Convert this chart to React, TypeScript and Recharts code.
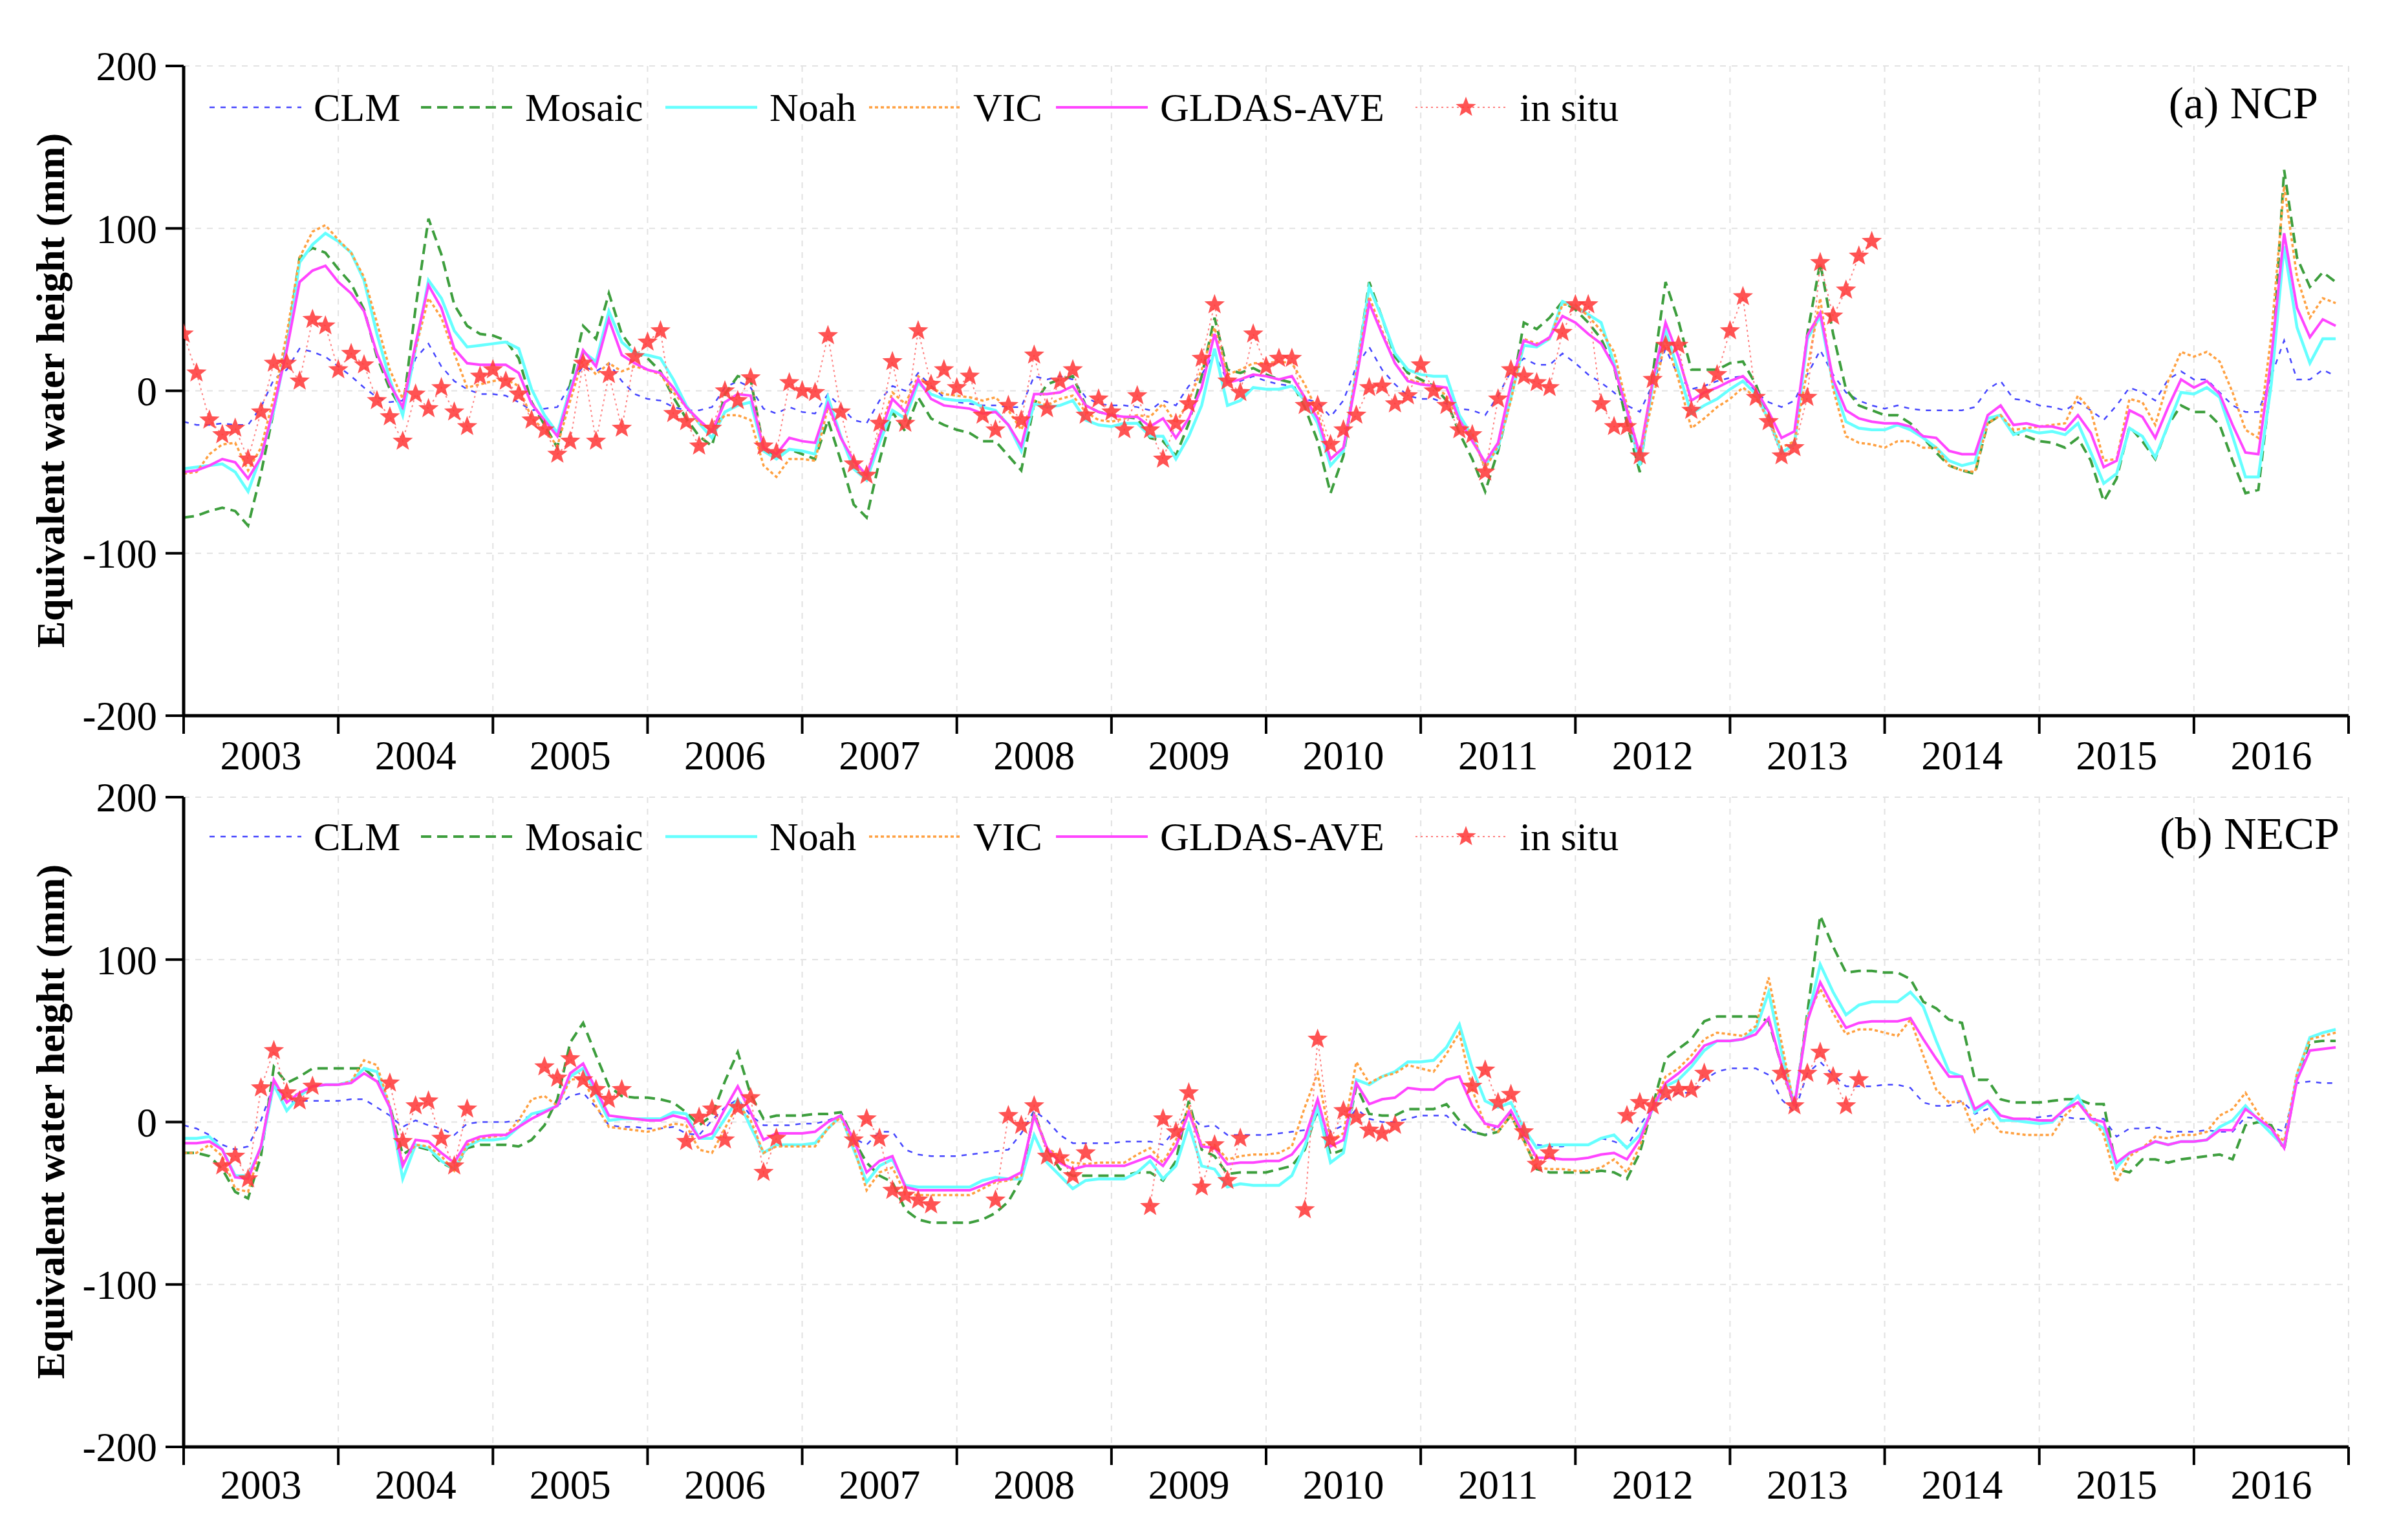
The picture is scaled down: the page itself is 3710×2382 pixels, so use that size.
import { CartesianGrid, Line, LineChart, XAxis, YAxis } from "recharts";

const YEARS = [2003, 2004, 2005, 2006, 2007, 2008, 2009, 2010, 2011, 2012, 2013, 2014, 2015, 2016, 2017];
const Y_TICKS = [-200, -100, 0, 100, 200];
// monthly steps, Jan 2003 .. Dec 2016
const MONTHS = Array.from({ length: 168 }, (_, i) => 2003 + i / 12);

// (a) NCP, mm
const NCP_CLM = [
  -19, -21, -21, -20, -21, -21, -10, 7, 13, 26,
  24, 21, 15, 9, 2, -4, -7, -6, 20, 29,
  15, 6, 1, -2, -2, -3, -7, -12, -11, -10,
  4, 15, 12, 17, 6, -2, -5, -6, -10, -12,
  -12, -10, 2, 6, 2, -11, -14, -10, -13, -14,
  -2, -10, -18, -20, -6, 3, 0, 11, 3, -4,
  -7, -8, -9, -9, -10, -10, 9, 7, 9, 7,
  -4, -8, -9, -9, -10, -12, -6, -9, 3, 10,
  23, 6, 6, 9, 6, 4, 3, -5, -7, -16,
  -6, 15, 27, 13, 4, -3, -5, -5, -8, -11,
  -12, -15, -3, 12, 20, 16, 16, 23, 17, 10,
  5, -1, -9, -13, 4, 26, 9, 1, 3, 6,
  8, 9, -1, -7, -10, -6, 10, 25, 10, -1,
  -6, -9, -11, -9, -11, -12, -12, -12, -12, -10,
  1, 6, -5, -6, -9, -10, -12, -7, -12, -18,
  -9, 2, -1, -6, 7, 12, 7, 7, -1, -9,
  -13, -13, 9, 31, 7, 7, 13, 9,
];
const NCP_MOSAIC = [
  -78, -77, -74, -72, -74, -83, -51, -12, 28, 82,
  88, 85, 75, 66, 50, 21, 1, -12, 51, 106,
  84, 53, 40, 35, 34, 31, 20, -7, -21, -35,
  4, 40, 32, 60, 35, 24, 20, 12, -4, -17,
  -28, -34, -2, 9, 7, -35, -42, -36, -39, -42,
  -18, -43, -70, -78, -43, -13, -25, -4, -17, -21,
  -24, -26, -31, -31, -40, -49, -8, 4, 7, 9,
  -9, -13, -15, -16, -17, -29, -31, -40, -20, 9,
  45, 13, 11, 14, 10, 7, 5, -10, -31, -63,
  -40, 12, 67, 45, 21, 11, 7, 3, -6, -26,
  -42, -62, -37, -4, 42, 38, 45, 55, 50, 42,
  32, 15, -20, -50, 10, 67, 43, 13, 13, 13,
  17, 18, 4, -17, -38, -33, 35, 79, 35, 1,
  -9, -12, -15, -15, -20, -29, -38, -46, -49, -51,
  -20, -15, -26, -28, -31, -32, -35, -29, -43, -68,
  -54, -22, -31, -42, -21, -9, -13, -13, -21, -43,
  -63, -61, 7, 136, 82, 64, 73, 67,
];
const NCP_NOAH = [
  -48, -47, -46, -45, -50, -62, -40, -12, 26, 79,
  90, 97, 92, 85, 68, 35, 7, -15, 26, 68,
  57, 37, 27, 28, 29, 30, 26, 1, -15, -26,
  1, 24, 18, 49, 30, 23, 22, 20, 7, -9,
  -20, -29, -13, -9, -7, -37, -42, -36, -37, -39,
  -4, -28, -48, -55, -32, -12, -17, 5, -2, -5,
  -6, -6, -10, -12, -21, -37, -8, -10, -9, -6,
  -18, -21, -22, -20, -20, -28, -28, -42, -28, -9,
  26, -9, -6, 2, 1, 1, 3, -6, -20, -46,
  -37, 12, 64, 45, 23, 13, 10, 9, 9, -15,
  -28, -46, -35, -4, 28, 27, 32, 55, 52, 47,
  42, 17, -12, -46, 4, 37, 12, -14, -9, -5,
  1, 6, -2, -18, -38, -33, 32, 46, 4, -19,
  -23, -24, -24, -21, -24, -29, -35, -43, -46, -44,
  -17, -15, -27, -24, -26, -25, -27, -20, -38, -57,
  -51, -23, -28, -41, -21, -1, -2, 2, -4, -28,
  -53, -53, 4, 89, 39, 17, 32, 32,
];
const NCP_VIC = [
  -51, -50, -39, -33, -32, -49, -35, -4, 35, 82,
  98, 102, 93, 85, 70, 42, 13, -5, 26, 57,
  45, 23, 2, 4, 6, 7, 3, -17, -24, -34,
  -6, 20, 10, 17, 12, 15, 13, 10, -1, -10,
  -20, -24, -15, -15, -18, -46, -53, -42, -42, -43,
  -10, -29, -43, -53, -26, -1, -8, 9, 2, -2,
  -3, -4, -6, -4, -12, -24, -6, -9, -5, -3,
  -13, -18, -19, -17, -15, -16, -8, -20, -6, 13,
  39, 10, 13, 17, 17, 18, 17, 4, -13, -42,
  -35, 12, 58, 37, 17, 7, 5, 3, -3, -19,
  -26, -48, -34, -6, 32, 29, 32, 53, 53, 46,
  37, 24, -9, -40, -6, 32, 7, -23, -17, -10,
  -5, 2, -4, -18, -35, -31, 13, 57, 1, -28,
  -32, -33, -35, -31, -31, -35, -35, -46, -49, -50,
  -20, -15, -24, -23, -22, -21, -20, -3, -12, -43,
  -42, -5, -7, -21, 6, 24, 21, 24, 18, -1,
  -24, -29, 34, 126, 70, 45, 57, 54,
];
const NCP_GLDAS = [
  -50, -49, -46, -42, -44, -54, -41, -10, 25, 67,
  74, 77, 67, 60, 49, 23, 4, -10, 29, 65,
  51, 26, 17, 16, 16, 16, 11, -8, -18, -28,
  -1, 25, 15, 44, 22, 17, 13, 11, 2, -10,
  -18, -25, -7, -2, -3, -35, -39, -29, -31, -32,
  -8, -29, -43, -52, -28, -5, -13, 7, -5, -9,
  -10, -11, -14, -13, -21, -34, -2, -2, -1, 3,
  -9, -13, -15, -16, -16, -22, -17, -29, -17, 2,
  35, 5, 7, 10, 9, 7, 9, -4, -17, -42,
  -35, 7, 54, 35, 17, 6, 4, 3, 2, -18,
  -31, -44, -32, 4, 31, 28, 33, 46, 42, 35,
  29, 15, -12, -39, 6, 42, 21, -6, -1, 2,
  6, 9, 1, -13, -29, -25, 34, 48, 7, -12,
  -17, -19, -20, -20, -22, -28, -29, -37, -39, -39,
  -15, -9, -21, -20, -22, -22, -24, -15, -26, -47,
  -43, -12, -16, -29, -10, 7, 2, 6, -2, -21,
  -38, -39, 20, 97, 51, 33, 44, 40,
];
const NCP_INSITU = [
  35, 11, -18, -27, -23, -42, -13, 17, 17, 6,
  44, 40, 13, 23, 16, -6, -16, -31, -2, -11,
  2, -13, -22, 9, 13, 6, -2, -18, -24, -39,
  -31, 17, -31, 10, -23, 21, 30, 37, -14, -19,
  -34, -23, 0, -6, 8, -34, -38, 5, 0, -1,
  34, -13, -45, -52, -20, 18, -20, 37, 4, 13,
  2, 9, -15, -24, -9, -18, 22, -11, 6, 13,
  -15, -5, -13, -24, -3, -24, -42, -20, -8, 20,
  53, 6, -1, 35, 15, 20, 20, -9, -9, -33,
  -24, -15, 2, 3, -8, -3, 16, 0, -9, -24,
  -27, -50, -5, 13, 9, 5, 2, 36, 53, 53,
  -8, -22, -22, -40, 7, 28, 28, -12, -1, 10,
  37, 58, -4, -19, -40, -35, -4, 79, 46, 62,
  83, 92,
];

// (b) NECP, mm
const NECP_CLM = [
  -2, -4, -8, -14, -17, -15, 1, 23, 12, 13,
  13, 13, 13, 14, 14, 9, 4, -3, 1, -2,
  -4, -8, -1, 0, 0, 0, 1, 4, 6, 10,
  16, 18, 9, -2, -3, -3, -4, -4, -3, -7,
  -8, 1, 9, 14, 4, -2, -2, -2, -1, -1,
  1, 4, -10, -14, -6, -6, -17, -20, -21, -21,
  -21, -20, -19, -18, -17, -7, 7, 1, -8, -13,
  -13, -13, -13, -12, -12, -12, -14, -4, 5, -3,
  -2, -8, -8, -8, -8, -7, -6, -5, 5, -6,
  -2, 8, 2, 0, 0, 2, 4, 4, 4, -4,
  -6, -8, -2, 5, -6, -14, -15, -15, -14, -14,
  -10, -12, -15, -2, 9, 14, 18, 18, 26, 31,
  33, 33, 33, 29, 14, 6, 30, 37, 29, 22,
  22, 22, 23, 23, 21, 12, 10, 10, 13, 5,
  8, 4, 2, 2, 3, 4, 3, 2, 2, 2,
  -9, -4, -4, -3, -6, -6, -6, -5, -6, -6,
  3, 2, -3, -6, 24, 25, 24, 24,
];
const NECP_MOSAIC = [
  -19, -19, -21, -29, -43, -47, -21, 34, 24, 28,
  33, 33, 33, 33, 33, 26, 10, -20, -15, -17,
  -25, -29, -16, -14, -14, -14, -15, -11, -2, 14,
  49, 61, 41, 22, 16, 15, 15, 14, 12, 6,
  -2, 4, 25, 43, 17, 2, 4, 4, 4, 5,
  5, 6, -11, -25, -33, -37, -54, -60, -62, -62,
  -62, -62, -60, -56, -49, -35, 6, -17, -29, -33,
  -33, -33, -33, -33, -31, -31, -36, -24, 13, -17,
  -21, -32, -31, -31, -31, -29, -27, -17, 8, -20,
  -17, 22, 5, 4, 4, 8, 8, 8, 11, 1,
  -6, -8, -6, 4, -11, -29, -31, -31, -31, -31,
  -30, -31, -35, -19, 10, 39, 45, 51, 62, 65,
  65, 65, 65, 62, 35, 9, 67, 127, 108, 92,
  93, 93, 92, 92, 88, 74, 70, 63, 61, 26,
  26, 14, 12, 12, 12, 13, 14, 14, 11, 11,
  -29, -31, -23, -23, -25, -23, -22, -21, -20, -23,
  -2, 0, -2, -17, 28, 49, 50, 50,
];
const NECP_NOAH = [
  -10, -10, -9, -17, -33, -33, -16, 23, 7, 16,
  22, 23, 23, 25, 33, 31, 9, -35, -14, -16,
  -24, -29, -15, -11, -11, -10, -3, 5, 7, 10,
  28, 33, 17, 1, 2, 2, 2, 2, 6, 5,
  -10, -10, 2, 14, -3, -19, -14, -14, -14, -13,
  -4, 4, -17, -37, -27, -23, -39, -40, -40, -40,
  -40, -40, -36, -34, -35, -35, -8, -25, -33, -41,
  -36, -35, -35, -35, -31, -24, -35, -27, -2, -27,
  -29, -40, -38, -39, -39, -39, -33, -15, 9, -25,
  -19, 26, 23, 28, 31, 37, 37, 38, 46, 60,
  33, 13, 9, 12, -4, -16, -14, -14, -14, -14,
  -10, -8, -16, -8, 8, 22, 26, 34, 44, 50,
  50, 51, 57, 80, 43, 10, 63, 97, 80, 66,
  72, 74, 74, 74, 80, 71, 50, 31, 28, 6,
  12, 1, 1, 0, -1, 0, 8, 16, 1, -4,
  -28, -19, -16, -12, -14, -12, -12, -11, -3, 1,
  10, 1, -7, -15, 29, 52, 55, 57,
];
const NECP_VIC = [
  -19, -19, -14, -21, -41, -43, -15, 25, 14, 18,
  22, 23, 23, 25, 38, 35, 10, -25, -14, -15,
  -21, -30, -14, -10, -9, -8, 1, 14, 16, 10,
  26, 27, 10, -3, -4, -5, -6, -4, -1, -2,
  -17, -19, -4, 11, 1, -19, -15, -15, -15, -15,
  -4, 3, -15, -42, -31, -28, -44, -45, -45, -45,
  -45, -45, -41, -37, -36, -33, 5, -16, -21, -25,
  -26, -25, -25, -25, -20, -16, -25, -11, 9, -14,
  -14, -23, -21, -20, -20, -19, -15, 9, 30, -11,
  -7, 37, 24, 28, 30, 35, 33, 31, 42, 55,
  20, -2, -6, 4, -12, -28, -29, -29, -30, -30,
  -28, -23, -31, -15, 10, 28, 33, 41, 51, 55,
  54, 53, 59, 89, 49, 9, 65, 82, 67, 54,
  57, 57, 55, 53, 63, 41, 20, 12, 13, -6,
  3, -6, -7, -8, -8, -8, 4, 12, 4, -8,
  -37, -21, -16, -9, -10, -8, -8, -6, 4, 8,
  18, 5, -4, -12, 30, 51, 53, 55,
];
const NECP_GLDAS = [
  -13, -13, -12, -17, -34, -35, -15, 26, 12, 18,
  22, 23, 23, 24, 30, 25, 9, -27, -11, -12,
  -19, -25, -12, -9, -8, -8, -3, 2, 6, 10,
  30, 36, 20, 4, 3, 2, 1, 1, 4, 2,
  -10, -7, 8, 22, 6, -11, -7, -7, -7, -6,
  0, 4, -11, -31, -24, -21, -40, -42, -42, -42,
  -42, -42, -39, -36, -35, -31, 4, -16, -25, -29,
  -27, -27, -27, -27, -24, -21, -27, -15, 6, -15,
  -16, -26, -25, -25, -24, -24, -20, -10, 14, -15,
  -11, 24, 11, 14, 15, 21, 20, 20, 26, 28,
  10, -1, -3, 7, -8, -22, -22, -23, -23, -22,
  -20, -19, -23, -11, 9, 24, 30, 37, 47, 50,
  50, 51, 54, 64, 35, 10, 62, 86, 71, 58,
  61, 62, 62, 62, 64, 51, 39, 28, 28, 8,
  13, 4, 2, 2, 1, 1, 8, 12, 2, 0,
  -25, -19, -16, -12, -14, -12, -12, -11, -5, -5,
  8, 2, -4, -16, 26, 44, 45, 46,
];
const NECP_INSITU = [
  null, null, null, -27, -21, -35, 21, 44, 18, 13,
  22, null, null, null, null, null, 24, -12, 10, 13,
  -10, -27, 8, null, null, null, null, null, 34, 27,
  39, 26, 20, 14, 20, null, null, null, null, -12,
  3, 8, -11, 9, 15, -31, -10, null, null, null,
  null, null, -11, 2, -10, -42, -45, -48, -51, null,
  null, null, null, -48, 4, -2, 10, -21, -22, -33,
  -19, null, null, null, null, -52, 2, -6, 18, -40,
  -14, -36, -10, null, null, null, null, -54, 51, -11,
  7, 3, -5, -7, -2, null, null, null, null, null,
  22, 32, 12, 17, -6, -26, -19, null, null, null,
  null, null, 4, 12, 10, 18, 20, 20, 30, null,
  null, null, null, null, 30, 10, 30, 43, 28, 10,
  26,
];

const SERIES = [
  { key: "clm", name: "CLM", color: "#4646ff", width: 2.5, dash: "8 9" },
  { key: "mosaic", name: "Mosaic", color: "#3d9e3d", width: 4, dash: "16 9" },
  { key: "noah", name: "Noah", color: "#66ffff", width: 4.5, dash: undefined },
  { key: "vic", name: "VIC", color: "#ffa040", width: 3.5, dash: "5 4" },
  { key: "gldas", name: "GLDAS-AVE", color: "#ff45ff", width: 4, dash: undefined },
];
const INSITU = { key: "insitu", name: "in situ", color: "#ff8080", width: 2, dash: "3 5" };
const STAR_COLOR = "#ff3b3b";

const W = 3710;
const PLOT_LEFT = 284;
const PLOT_RIGHT = 3632;
const HALF_YEAR = (PLOT_RIGHT - PLOT_LEFT) / (YEARS.length - 1) / 2;
const LEGEND_X = [324, 651, 1029, 1344, 1633, 2189];
const FONT = '"Liberation Serif", "Times New Roman", Times, serif';
const AXIS_LINE = { stroke: "#000", strokeWidth: 5 };
const AXIS_TICK = { stroke: "#000", strokeWidth: 4 };

type Vals = (number | null)[];

const buildRows = (clm: Vals, mosaic: Vals, noah: Vals, vic: Vals, gldas: Vals, insitu: Vals) =>
  MONTHS.map((t, i) => ({
    t,
    clm: clm[i],
    mosaic: mosaic[i],
    noah: noah[i],
    vic: vic[i],
    gldas: gldas[i],
    insitu: insitu[i] ?? null,
  }));

const NCP_ROWS = buildRows(NCP_CLM, NCP_MOSAIC, NCP_NOAH, NCP_VIC, NCP_GLDAS, NCP_INSITU);
const NECP_ROWS = buildRows(NECP_CLM, NECP_MOSAIC, NECP_NOAH, NECP_VIC, NECP_GLDAS, NECP_INSITU);

const starPath = (cx: number, cy: number, r: number) => {
  const pts: string[] = [];
  for (let k = 0; k < 10; k++) {
    const rad = k % 2 ? r * 0.42 : r;
    const a = -Math.PI / 2 + (k * Math.PI) / 5;
    pts.push(`${(cx + rad * Math.cos(a)).toFixed(1)},${(cy + rad * Math.sin(a)).toFixed(1)}`);
  }
  return `M${pts.join("L")}Z`;
};

const StarDot = (props: any) => {
  const { cx, cy, index, value } = props;
  if (cx == null || cy == null || value == null) return <g key={`s${index}`} />;
  return <path key={`s${index}`} d={starPath(cx, cy, 16.5)} fill={STAR_COLOR} fillOpacity={0.88} />;
};

const YearTick = (props: any) => {
  const { x, y, payload } = props;
  if (payload.value >= 2017) return <g />;
  return (
    <text x={x + HALF_YEAR} y={y} dy="0.71em" textAnchor="middle" fontSize={63} fill="#000" fontFamily={FONT}>
      {payload.value}
    </text>
  );
};

interface PanelProps {
  rows: ReturnType<typeof buildRows>;
  height: number;
  top: number;
  axisHeight: number;
  topTicks: boolean;
  labelGap: number;
}

const Panel = ({ rows, height, top, axisHeight, topTicks, labelGap }: PanelProps) => (
  <LineChart
    width={W}
    height={height}
    data={rows}
    margin={{ top, right: W - PLOT_RIGHT, bottom: 0, left: PLOT_LEFT - 200 }}
    style={{ fontFamily: FONT }}
  >
    <CartesianGrid stroke="#e2e2e2" strokeDasharray="9 9" strokeWidth={2} />
    <XAxis
      dataKey="t"
      type="number"
      domain={[2003, 2017]}
      ticks={YEARS}
      interval={0}
      height={axisHeight}
      tickSize={28}
      tickMargin={labelGap}
      tickLine={AXIS_TICK}
      axisLine={AXIS_LINE}
      tick={YearTick}
      allowDataOverflow
    />
    <XAxis
      xAxisId="top"
      orientation="top"
      dataKey="t"
      type="number"
      domain={[2003, 2017]}
      ticks={YEARS}
      interval={0}
      height={0}
      tickSize={28}
      tick={false}
      tickLine={topTicks ? AXIS_TICK : false}
      axisLine={AXIS_LINE}
      allowDataOverflow
    />
    <YAxis
      type="number"
      domain={[-200, 200]}
      ticks={Y_TICKS}
      interval={0}
      width={200}
      tickSize={28}
      tickMargin={13}
      tickLine={AXIS_TICK}
      axisLine={AXIS_LINE}
      tick={{ fontSize: 63, fill: "#000", fontFamily: FONT }}
      allowDataOverflow
    />
    <YAxis
      yAxisId="right"
      orientation="right"
      type="number"
      domain={[-200, 200]}
      width={0}
      tick={false}
      tickLine={false}
      axisLine={AXIS_LINE}
    />
    {SERIES.map((s) => (
      <Line
        key={s.key}
        type="linear"
        dataKey={s.key}
        stroke={s.color}
        strokeWidth={s.width}
        strokeDasharray={s.dash}
        dot={false}
        activeDot={false}
        isAnimationActive={false}
      />
    ))}
    <Line
      type="linear"
      dataKey="insitu"
      stroke={INSITU.color}
      strokeWidth={INSITU.width}
      strokeDasharray={INSITU.dash}
      dot={StarDot}
      activeDot={false}
      connectNulls={false}
      isAnimationActive={false}
    />
  </LineChart>
);

const LegendRow = ({ top }: { top: number }) => (
  <>
    {[...SERIES, INSITU].map((s, i) => (
      <div
        key={s.key}
        style={{
          position: "absolute",
          left: LEGEND_X[i],
          top,
          height: 70,
          display: "flex",
          alignItems: "center",
          fontSize: 62,
          whiteSpace: "nowrap",
        }}
      >
        <svg width={142} height={40}>
          <line x1={0} y1={20} x2={142} y2={20} stroke={s.color} strokeWidth={s.width} strokeDasharray={s.dash} />
          {s.key === "insitu" && <path d={starPath(78, 20, 16.5)} fill={STAR_COLOR} fillOpacity={0.88} />}
        </svg>
        <span style={{ marginLeft: 19, lineHeight: "70px" }}>{s.name}</span>
      </div>
    ))}
  </>
);

const YTitle = ({ cy }: { cy: number }) => (
  <div
    style={{
      position: "absolute",
      left: 78,
      top: cy,
      transform: "translate(-50%, -50%) rotate(-90deg)",
      whiteSpace: "nowrap",
      fontSize: 62,
      fontWeight: 700,
    }}
  >
    Equivalent water height (mm)
  </div>
);

const PanelTag = ({ text, right, top }: { text: string; right: number; top: number }) => (
  <div style={{ position: "absolute", right, top, fontSize: 70, lineHeight: "80px", whiteSpace: "nowrap" }}>{text}</div>
);

const App = () => (
  <div style={{ position: "relative", width: W, height: 2382, background: "#fff", fontFamily: FONT, color: "#000" }}>
    <style>{"body{margin:0;}"}</style>
    <div style={{ position: "absolute", left: 0, top: 1200 }}>
      <Panel rows={NECP_ROWS} height={1182} top={33} axisHeight={144} topTicks labelGap={7} />
    </div>
    <div style={{ position: "absolute", left: 0, top: 0 }}>
      <Panel rows={NCP_ROWS} height={1232} top={102} axisHeight={125} topTicks={false} labelGap={10} />
    </div>
    <LegendRow top={131} />
    <LegendRow top={1259} />
    <PanelTag text="(a) NCP" right={W - 3585} top={120} />
    <PanelTag text="(b) NECP" right={W - 3618} top={1250} />
    <YTitle cy={604} />
    <YTitle cy={1735} />
  </div>
);

export default App;
